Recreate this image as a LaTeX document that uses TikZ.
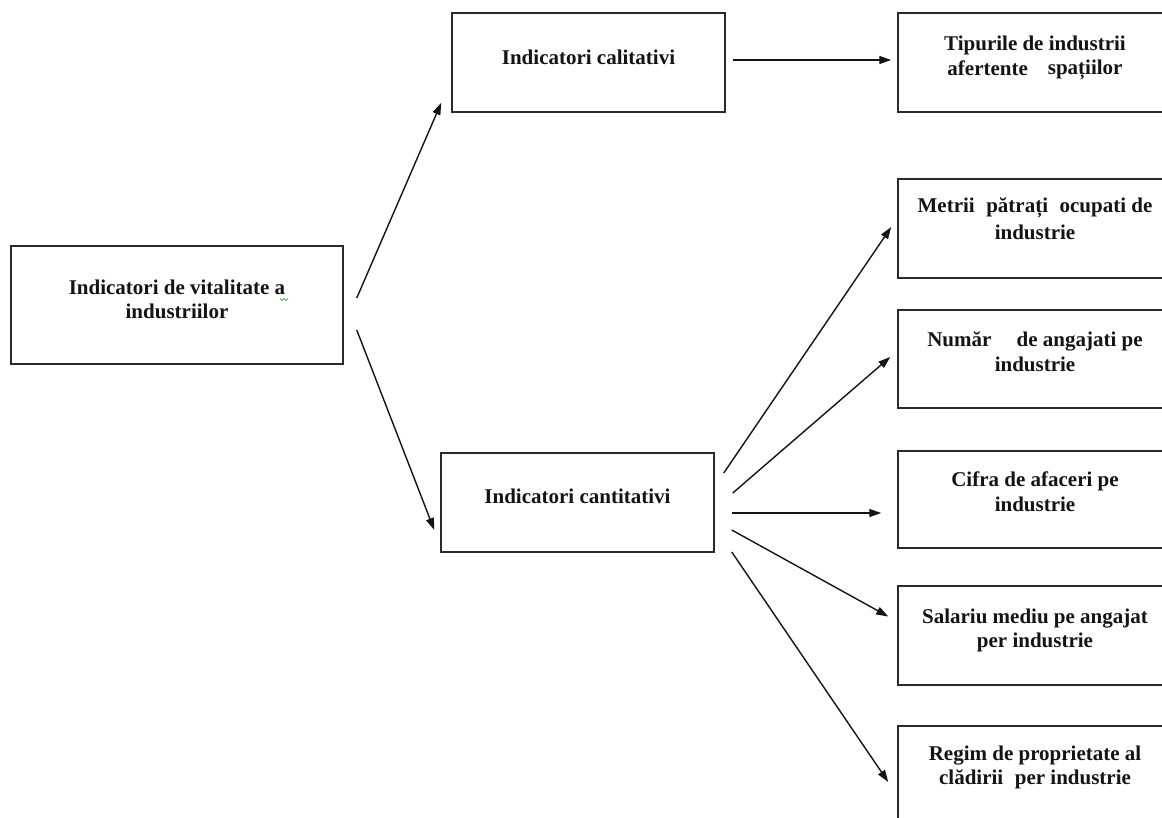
\documentclass[tikz,border=0pt]{standalone}
\usepackage{fontspec}
\setmainfont{Liberation Serif}
\usetikzlibrary{calc,arrows.meta}

% stacked, centred lines whose baseline is the first line's
\newcommand{\boxlines}[1]{\begin{tabular}[t]{@{}c@{}}#1\end{tabular}}

\definecolor{frame}{HTML}{2A2A2A}
\definecolor{ink}{HTML}{141414}

\begin{document}
\begin{tikzpicture}[x=1pt,y=-1pt,
  indbox/.style={draw=frame, line width=1.5pt, rectangle, inner sep=0pt,
    minimum width=#1, text=ink,
    font=\fontsize{21pt}{22pt}\selectfont\bfseries, text height=15pt},
  indbox/.default=273pt,
  link/.style={draw=ink, line width=1.4pt, -{Triangle[length=12pt,width=8pt]}}
]
\useasboundingbox (0,0) rectangle (1162,818);
\clip (0,0) rectangle (1162,818);
\fill[white] (0,0) rectangle (1162,818);

% root
\node[indbox=332pt, minimum height=118pt, text depth=35pt] (root) at (177,305)
  {\boxlines{Indicatori de vitalitate a\\[2pt] industriilor}};
\draw[green!55!black, line width=0.6pt]
  (280,298.5) -- (282,300.5) -- (284,298.5) -- (286,300.5) -- (288,298.5);

% second level
\node[indbox, minimum height=99pt, text depth=10pt] (cal) at (588.5,62.5)
  {\boxlines{Indicatori calitativi}};
\node[indbox, minimum height=99pt, text depth=14pt] (cant) at (577.5,502.5)
  {\boxlines{Indicatori cantitativi}};

% third level
\node[indbox=274pt, minimum height=99pt, text depth=38pt] (tip) at (1035,62.5)
  {\boxlines{Tipurile de industrii\\[2pt] afertente\hspace{0.7em} \raisebox{1.5pt}{spațiilor}}};
\node[indbox=274pt, minimum height=99pt, text depth=47pt] (metrii) at (1035,228.5)
  {\boxlines{Metrii\hspace{0.3em} pătrați\hspace{0.3em} ocupati de\\[5pt] industrie}};
\node[indbox=274pt, minimum height=98pt, text depth=40pt] (numar) at (1035,359)
  {\boxlines{Număr\hspace{0.95em} de angajati pe\\[3pt] industrie}};
\node[indbox=274pt, minimum height=97pt, text depth=42pt] (cifra) at (1035,499.5)
  {\boxlines{Cifra de afaceri pe\\[3pt] industrie}};
\node[indbox=274pt, minimum height=99pt, text depth=40pt] (salariu) at (1035,635.5)
  {\boxlines{Salariu mediu pe angajat\\[2pt] per industrie}};
\node[indbox=274pt, minimum height=104pt, text depth=51pt] (regim) at (1035,778)
  {\boxlines{Regim de proprietate al\\[2pt] clădirii\hspace{0.3em} per industrie}};

% connectors
\draw[link] ($(root.east)+(13,-7)$) -- ($(cal.south west)+(-10,-10)$);
\draw[link] ($(root.east)+(13,25)$) -- ($(cant.west)+(-6,27.5)$);
\draw[link] ($(cal.east)+(7,-2.5)$) -- ($(tip.west)+(-6,-2.5)$);
\draw[link] ($(cant.east)+(9,-29.5)$) -- ($(metrii.west)+(-6,-1.5)$);
\draw[link] ($(cant.east)+(18,-9.5)$) -- ($(numar.west)+(-7,-2)$);
\draw[link] ($(cant.east)+(17,10.5)$) -- ($(cifra.west)+(-16,13.5)$);
\draw[link] ($(cant.east)+(17,27.5)$) -- ($(salariu.west)+(-9,-19)$);
\draw[link] ($(cant.east)+(17,49.5)$) -- ($(regim.west)+(-9,4)$);
\end{tikzpicture}
\end{document}
